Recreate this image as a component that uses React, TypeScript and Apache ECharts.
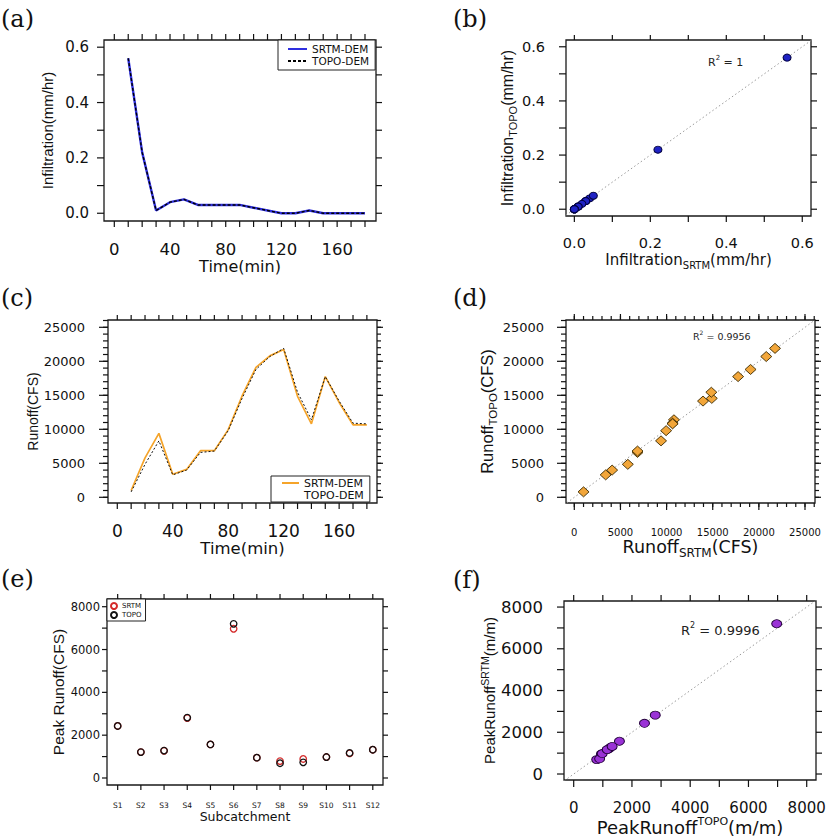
import React, { useEffect, useRef } from "react";
import * as echarts from "echarts";

// ---------------- data ----------------
const timeMin = [10, 20, 30, 40, 50, 60, 70, 80, 90, 100, 110, 120, 130, 140, 150, 160, 170, 180];
const infilSRTM = [0.56, 0.22, 0.01, 0.04, 0.05, 0.03, 0.03, 0.03, 0.03, 0.02, 0.01, 0, 0, 0.01, 0, 0, 0, 0];
const infilTOPO = [0.56, 0.22, 0.01, 0.04, 0.05, 0.03, 0.03, 0.03, 0.03, 0.02, 0.01, 0, 0, 0.01, 0, 0, 0, 0];
const runoffSRTM = [1000, 5800, 9400, 3400, 4100, 6850, 6850, 9950, 14900, 19100, 20800, 21750, 14850, 10800, 17750, 13950, 10650, 10650];
const runoffTOPO = [800, 4850, 8300, 3300, 4000, 6600, 6800, 9800, 14550, 18800, 20700, 21900, 15450, 11400, 17750, 14150, 10900, 10800];
const subcatchments = ["S1", "S2", "S3", "S4", "S5", "S6", "S7", "S8", "S9", "S10", "S11", "S12"];
const subIndex = [1, 2, 3, 4, 5, 6, 7, 8, 9, 10, 11, 12];
const peakSRTM = [2430, 1210, 1270, 2800, 1570, 6970, 950, 790, 890, 980, 1150, 1320];
const peakTOPO = [2430, 1210, 1280, 2820, 1570, 7200, 950, 690, 730, 980, 1170, 1320];
const r2Infil = "1";
const r2Runoff = "0.9956";
const r2Peak = "0.9996";
const oneToOneInfil = [[-1, -1], [1, 1]];
const oneToOneRunoff = [[-5000, -5000], [30000, 30000]];
const oneToOnePeak = [[-2000, -2000], [10000, 10000]];

// ---------------- ticks ----------------
const timeTicks = [0, 10, 20, 30, 40, 50, 60, 70, 80, 90, 100, 110, 120, 130, 140, 150, 160, 170, 180];
const timeLabels = [0, 40, 80, 120, 160];
const infilTicks = [0, 0.1, 0.2, 0.3, 0.4, 0.5, 0.6];
const infilLabels = [0, 0.2, 0.4, 0.6];
const runoffMajor = [0, 5000, 10000, 15000, 20000, 25000];
const runoffMinor = [0, 1000, 2000, 3000, 4000, 5000, 6000, 7000, 8000, 9000, 10000, 11000, 12000, 13000, 14000, 15000, 16000, 17000, 18000, 19000, 20000, 21000, 22000, 23000, 24000, 25000, 26000];
const peakTicks = [0, 1000, 2000, 3000, 4000, 5000, 6000, 7000, 8000];
const peakLabels = [0, 2000, 4000, 6000, 8000];

const DV = "DejaVu Sans";
const LS = "Liberation Sans";
const INK = "#111";

const GRID_RECTS = [
  { left: 104, top: 40, width: 272, height: 181 },
  { left: 566, top: 40, width: 245, height: 176 },
  { left: 108, top: 320, width: 269, height: 183 },
  { left: 566, top: 320, width: 249, height: 183 },
  { left: 107, top: 599, width: 276, height: 186 },
  { left: 564, top: 601, width: 252, height: 179 },
];

// axis ranges (frame edges) per panel
const RANGES: { x: [number, number]; y: [number, number] }[] = [
  { x: [-7.4, 187.9], y: [-0.028, 0.626] },
  { x: [-0.022, 0.623], y: [-0.025, 0.625] },
  { x: [-6.7, 187.3], y: [-838, 26074] },
  { x: [-900, 26084], y: [-838, 26074] },
  { x: [0.54, 12.44], y: [-327, 8360] },
  { x: [-333, 8319], y: [-287, 8290] },
];

type TickSet = [number[], number][];
interface TickSpec { bottom?: TickSet; top?: TickSet; left?: TickSet; right?: TickSet; }
const TICK_SPECS: TickSpec[] = [
  { bottom: [[timeTicks, 6]], top: [[timeTicks, 6]], left: [[infilTicks, 7]], right: [[infilTicks, 6]] },
  { bottom: [[infilTicks, 6]], top: [[infilTicks, 5]], left: [[infilTicks, 7]], right: [[infilTicks, 6]] },
  { bottom: [[timeTicks, 6]], top: [[timeTicks, 5]], left: [[runoffMajor, 9], [runoffMinor, 5]], right: [[runoffMajor, 6], [runoffMinor, 4]] },
  { bottom: [[runoffMajor, 7], [runoffMinor, 4]], top: [[runoffMajor, 6], [runoffMinor, 4]], left: [[runoffMajor, 9], [runoffMinor, 5]], right: [[runoffMajor, 6], [runoffMinor, 4]] },
  { bottom: [[subIndex, 5]], top: [[subIndex, 5]], left: [[peakTicks, 5]], right: [[peakTicks, 5]] },
  { bottom: [[peakTicks, 7]], top: [[peakTicks, 6]], left: [[peakTicks, 7]], right: [[peakTicks, 6]] },
];

function nameRich(font: string, size: number, sub: number) {
  return {
    a: { fontFamily: font, fontSize: size, color: INK, lineHeight: size + 6 },
    s: { fontFamily: font, fontSize: sub, color: INK, lineHeight: sub, verticalAlign: "bottom" },
    p: { fontFamily: font, fontSize: sub, color: INK, lineHeight: sub, verticalAlign: "top" },
  };
}

interface Side {
  min: number; max: number;
  labels: number[]; fmt: (v: number) => string; labelSize: number; labelMargin: number;
  name: string; nameGap: number; nameFont: string; nameSize: number; subSize?: number;
}

function axis(gi: number, isX: boolean, s: Side) {
  return {
    type: "value", gridIndex: gi, min: s.min, max: s.max,
    position: isX ? "bottom" : "left",
    splitLine: { show: false },
    axisLine: { show: false, onZero: false },
    axisTick: { show: false },
    silent: true,
    name: s.name, nameLocation: "middle", nameGap: s.nameGap,
    nameTextStyle: {
      fontFamily: s.nameFont, fontSize: s.nameSize, color: INK,
      rich: nameRich(s.nameFont, s.nameSize, s.subSize || s.nameSize * 0.7),
    },
    axisLabel: { show: true, customValues: s.labels, formatter: s.fmt, fontFamily: DV, fontSize: s.labelSize, color: INK, margin: s.labelMargin },
  };
}

// tick marks: thin rect symbols anchored on the frame edges, placed by the axes' own scales
function tickSeries(): any[] {
  const out: any[] = [];
  const W = 1.2;
  RANGES.forEach((r, i) => {
    const spec = TICK_SPECS[i];
    const inX = (v: number) => v >= r.x[0] && v <= r.x[1];
    const inY = (v: number) => v >= r.y[0] && v <= r.y[1];
    const add = (data: number[][], size: number[], offset: number[], key: string) =>
      out.push({
        type: "scatter", name: `ticks-${i}-${key}`, xAxisIndex: i, yAxisIndex: i, data,
        symbol: "rect", symbolSize: size, symbolOffset: offset,
        itemStyle: { color: "#111", opacity: 1, borderWidth: 0 },
        silent: true, clip: false, z: 10, emphasis: { disabled: true }, tooltip: { show: false },
      });
    (spec.bottom || []).forEach(([vals, len], k) =>
      add(vals.filter(inX).map((v) => [v, r.y[0]]), [W, len], [0, len / 2], "b" + k));
    (spec.top || []).forEach(([vals, len], k) =>
      add(vals.filter(inX).map((v) => [v, r.y[1]]), [W, len], [0, -len / 2], "t" + k));
    (spec.left || []).forEach(([vals, len], k) =>
      add(vals.filter(inY).map((v) => [r.x[0], v]), [len, W], [-len / 2, 0], "l" + k));
    (spec.right || []).forEach(([vals, len], k) =>
      add(vals.filter(inY).map((v) => [r.x[1], v]), [len, W], [len / 2, 0], "r" + k));
  });
  return out;
}

const f1 = (v: number) => v.toFixed(1);
const f0 = (v: number) => String(Math.round(v));

function buildOption() {
  const R = RANGES;
  const grids = GRID_RECTS.map((g) => ({
    ...g, show: true, borderColor: "#1a1a1a", borderWidth: 1.3, backgroundColor: "transparent",
    containLabel: false, outerBoundsMode: "none",
  }));

  const xA = [
    axis(0, true, { min: R[0].x[0], max: R[0].x[1], labels: timeLabels, fmt: f0, labelSize: 16.5, labelMargin: 20,
      name: "Time(min)", nameGap: 35, nameFont: DV, nameSize: 16 }),
    axis(1, true, { min: R[1].x[0], max: R[1].x[1], labels: infilLabels, fmt: f1, labelSize: 14.5, labelMargin: 19,
      name: "{a|Infiltration}{s|SRTM}{a|(mm/hr)}", nameGap: 33, nameFont: DV, nameSize: 15, subSize: 10 }),
    axis(2, true, { min: R[2].x[0], max: R[2].x[1], labels: timeLabels, fmt: f0, labelSize: 17, labelMargin: 19,
      name: "Time(min)", nameGap: 31, nameFont: DV, nameSize: 16.5 }),
    axis(3, true, { min: R[3].x[0], max: R[3].x[1], labels: runoffMajor, fmt: f0, labelSize: 10, labelMargin: 24,
      name: "{a|Runoff}{s|SRTM}{a|(CFS)}", nameGap: 29, nameFont: DV, nameSize: 17.5, subSize: 12 }),
    axis(4, true, { min: R[4].x[0], max: R[4].x[1], labels: subIndex, fmt: (v: number) => subcatchments[Math.round(v) - 1],
      labelSize: 7.5, labelMargin: 16, name: "Subcatchment", nameGap: 22, nameFont: DV, nameSize: 12.5 }),
    axis(5, true, { min: R[5].x[0], max: R[5].x[1], labels: peakLabels, fmt: f0, labelSize: 15, labelMargin: 20,
      name: "{a|PeakRunoff}{p|TOPO}{a|(m/m)}", nameGap: 33, nameFont: DV, nameSize: 18, subSize: 11 }),
  ];
  const yA = [
    axis(0, false, { min: R[0].y[0], max: R[0].y[1], labels: infilLabels, fmt: f1, labelSize: 15, labelMargin: 15,
      name: "Infiltration(mm/hr)", nameGap: 49, nameFont: LS, nameSize: 15 }),
    axis(1, false, { min: R[1].y[0], max: R[1].y[1], labels: infilLabels, fmt: f1, labelSize: 14.5, labelMargin: 21,
      name: "{a|Infiltration}{s|TOPO}{a|(mm/hr)}", nameGap: 45, nameFont: LS, nameSize: 16, subSize: 11 }),
    axis(2, false, { min: R[2].y[0], max: R[2].y[1], labels: runoffMajor, fmt: f0, labelSize: 13, labelMargin: 23,
      name: "Runoff(CFS)", nameGap: 67, nameFont: LS, nameSize: 14 }),
    axis(3, false, { min: R[3].y[0], max: R[3].y[1], labels: runoffMajor, fmt: f0, labelSize: 13, labelMargin: 22,
      name: "{a|Runoff}{s|TOPO}{a|(CFS)}", nameGap: 62, nameFont: LS, nameSize: 16.5, subSize: 11.5 }),
    axis(4, false, { min: R[4].y[0], max: R[4].y[1], labels: peakLabels, fmt: f0, labelSize: 11.5, labelMargin: 7,
      name: "Peak Runoff(CFS)", nameGap: 38, nameFont: LS, nameSize: 15.5 }),
    axis(5, false, { min: R[5].y[0], max: R[5].y[1], labels: peakLabels, fmt: f0, labelSize: 16.5, labelMargin: 21,
      name: "{a|PeakRunoff}{p|SRTM}{a|(m/m)}", nameGap: 63, nameFont: LS, nameSize: 15, subSize: 10.5 }),
  ];

  const zip = (a: number[], b: number[]) => a.map((v, i) => [v, b[i]]);
  const oneToOne = (data: number[][], i: number, name: string) => ({
    type: "line", name, xAxisIndex: i, yAxisIndex: i, data, symbol: "none", silent: true, clip: true, z: 1,
    lineStyle: { color: "#9a9a9a", width: 1, type: [1.5, 2.5] },
  });

  const series: any[] = [
    ...tickSeries(),
    { type: "line", name: "SRTM-DEM", xAxisIndex: 0, yAxisIndex: 0, data: zip(timeMin, infilSRTM), symbol: "none", showSymbol: false,
      lineStyle: { color: "#2f2fe0", width: 2.4 }, itemStyle: { color: "#2f2fe0" }, z: 2 },
    { type: "line", name: "TOPO-DEM", xAxisIndex: 0, yAxisIndex: 0, data: zip(timeMin, infilTOPO), symbol: "none", showSymbol: false,
      lineStyle: { color: "#000", width: 1.4, type: [3, 2] }, itemStyle: { color: "#000" }, z: 3 },
    oneToOne(oneToOneInfil, 1, "1:1 infiltration"),
    { type: "scatter", name: "Infiltration pairs", xAxisIndex: 1, yAxisIndex: 1, data: zip(infilSRTM, infilTOPO),
      symbol: "circle", symbolSize: [8, 7], itemStyle: { color: "#1f22c4", borderColor: "#000040", borderWidth: 1, opacity: 1 }, z: 3 },
    { type: "line", name: "SRTM-DEM ", xAxisIndex: 2, yAxisIndex: 2, data: zip(timeMin, runoffSRTM), symbol: "none", showSymbol: false,
      lineStyle: { color: "#f5a42a", width: 1.7 }, itemStyle: { color: "#f5a42a" }, z: 2 },
    { type: "line", name: "TOPO-DEM ", xAxisIndex: 2, yAxisIndex: 2, data: zip(timeMin, runoffTOPO), symbol: "none", showSymbol: false,
      lineStyle: { color: "#111", width: 1, type: [2, 2] }, itemStyle: { color: "#111" }, z: 3 },
    oneToOne(oneToOneRunoff, 3, "1:1 runoff"),
    { type: "scatter", name: "Runoff pairs", xAxisIndex: 3, yAxisIndex: 3, data: zip(runoffSRTM, runoffTOPO),
      symbol: "diamond", symbolSize: [11, 10], itemStyle: { color: "#f2a63a", borderColor: "#3b2a00", borderWidth: 0.9, opacity: 1 }, z: 3 },
    { type: "scatter", name: "SRTM", xAxisIndex: 4, yAxisIndex: 4, data: zip(subIndex, peakSRTM),
      symbol: "circle", symbolSize: 6.5, itemStyle: { color: "rgba(255,255,255,0)", borderColor: "#d42a2a", borderWidth: 1.3, opacity: 1 }, z: 2 },
    { type: "scatter", name: "TOPO", xAxisIndex: 4, yAxisIndex: 4, data: zip(subIndex, peakTOPO),
      symbol: "circle", symbolSize: 6.5, itemStyle: { color: "rgba(255,255,255,0)", borderColor: "#111", borderWidth: 1.3, opacity: 1 }, z: 3 },
    oneToOne(oneToOnePeak, 5, "1:1 peak"),
    { type: "scatter", name: "Peak pairs", xAxisIndex: 5, yAxisIndex: 5, data: zip(peakSRTM, peakTOPO),
      symbol: "circle", symbolSize: [10, 8], itemStyle: { color: "#9a32d6", borderColor: "#22003a", borderWidth: 0.9, opacity: 1 }, z: 3 },
  ];

  const legendBase = {
    show: true, orient: "vertical", selectedMode: false, backgroundColor: "#fff", borderColor: "#222", borderWidth: 1,
    borderRadius: 0,
  };
  const hideSym = { opacity: 0, borderWidth: 0 };

  const legend = [
    { ...legendBase, left: 278, top: 40,
      data: [{ name: "SRTM-DEM", itemStyle: hideSym }, { name: "TOPO-DEM", itemStyle: hideSym }],
      itemWidth: 19, itemHeight: 10, itemGap: 0,
      padding: [3, 6, 3, 9], textStyle: { fontFamily: DV, fontSize: 10.5, color: INK, lineHeight: 12 } },
    { ...legendBase, left: 271, top: 476,
      data: [{ name: "SRTM-DEM ", itemStyle: hideSym }, { name: "TOPO-DEM ", itemStyle: hideSym, lineStyle: { opacity: 0 } }],
      formatter: (n: string) => n.trim(), itemWidth: 17, itemHeight: 8, itemGap: 0, padding: [1, 6, 1, 10],
      textStyle: { fontFamily: DV, fontSize: 11, color: INK, lineHeight: 12 } },
    { ...legendBase, left: 107, top: 599, data: ["SRTM", "TOPO"], itemWidth: 6, itemHeight: 6, itemGap: 1,
      padding: [3, 4, 2, 3], textStyle: { fontFamily: DV, fontSize: 7, color: INK, lineHeight: 8 } },
  ];

  const letter = (t: string, x: number, y: number) => ({
    type: "text", x, y, silent: true,
    style: { text: t, fontFamily: "DejaVu Serif", fontSize: 24, fill: "#111", verticalAlign: "top" },
  });
  const r2 = (val: string, x: number, y: number, size: number) => ({
    type: "text", x, y, silent: true,
    style: {
      text: `{r|R}{p|2}{r| = ${val}}`, verticalAlign: "middle",
      rich: {
        r: { fontFamily: DV, fontSize: size, fill: "#222", lineHeight: size + 4 },
        p: { fontFamily: DV, fontSize: Math.round(size * 0.65), fill: "#222", lineHeight: Math.round(size * 0.65), verticalAlign: "top" },
      },
    },
  });
  const graphic = [
    letter("(a)", 1, 7), letter("(b)", 453, 7),
    letter("(c)", 1, 286), letter("(d)", 453, 286),
    letter("(e)", 1, 567), letter("(f)", 453, 568),
    r2(r2Infil, 708, 62, 11),
    r2(r2Runoff, 693, 336, 9.5),
    r2(r2Peak, 681, 630, 13),
  ];

  return {
    animation: false,
    backgroundColor: "#fff",
    textStyle: { fontFamily: DV },
    tooltip: { show: false },
    grid: grids,
    xAxis: xA,
    yAxis: yA,
    legend,
    graphic,
    series,
  };
}

export default function App() {
  const ref = useRef<HTMLDivElement>(null);
  useEffect(() => {
    const chart = echarts.init(ref.current as HTMLDivElement, null, { renderer: "svg" });
    chart.setOption(buildOption() as any);
    return () => chart.dispose();
  }, []);
  return (
    <div
      ref={ref}
      style={{ position: "absolute", left: 0, top: 0, width: 832, height: 840, background: "#fff" }}
    />
  );
}
